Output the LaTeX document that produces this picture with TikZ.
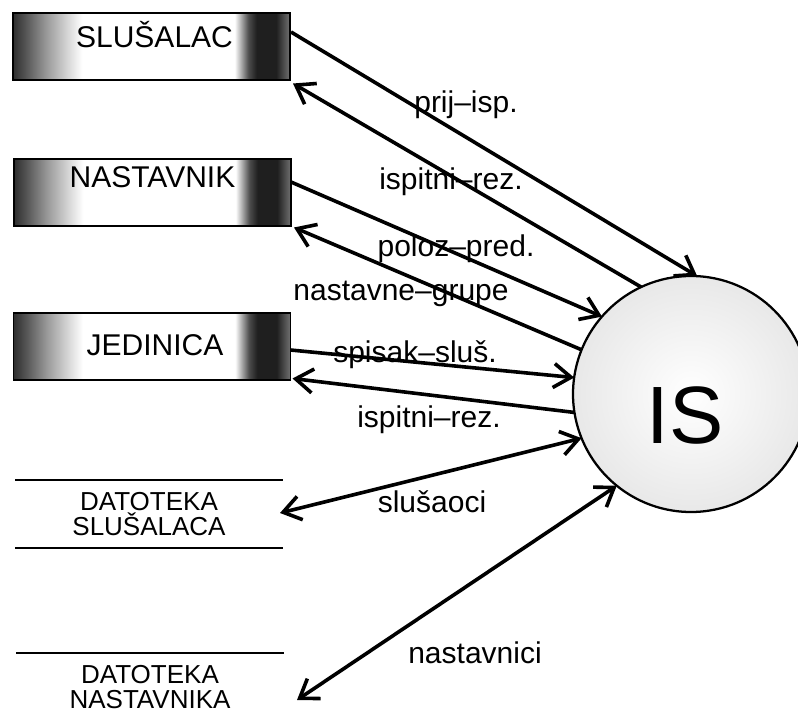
\documentclass[tikz,border=0pt]{standalone}
\usepackage{fontspec}
\setmainfont{Liberation Sans}
\usetikzlibrary{arrows.meta,calc}

% dark, worn ends on the entity boxes, white in the middle
\pgfdeclarehorizontalshading{endshade}{100bp}{%
  color(0bp)=(black!80); color(25bp)=(black!82); color(27.5bp)=(black!65);
  color(31bp)=(black!40); color(35bp)=(black!15); color(37.5bp)=(white);
  color(65bp)=(white); color(67.5bp)=(black!70); color(69bp)=(black!88);
  color(72.5bp)=(black!88); color(75bp)=(black!55); color(100bp)=(black!55)}

\begin{document}
\begin{tikzpicture}[x=0.75pt,y=-0.75pt,
  entity/.style={draw=black, line width=1.3pt, shading=endshade,
    minimum width=207.75pt, minimum height=50.25pt, inner sep=0pt, outer sep=0pt},
  enttext/.style={anchor=base, font=\fontsize{22.5pt}{27pt}\selectfont},
  store/.style={minimum width=201pt, minimum height=51pt, inner sep=0pt, outer sep=0pt,
    align=center, font=\fontsize{19.5pt}{18.75pt}\selectfont},
  storeline/.style={line width=1.3pt},
  process/.style={circle, draw=black, line width=1.7pt, inner sep=0pt, outer sep=0pt,
    minimum size=177pt, inner color=white, outer color=black!9},
  tip/.style={Straight Barb[length=13pt,width=18pt,line width=2.7pt]},
  flow/.style={line width=2.7pt, -{Straight Barb[length=13pt,width=18pt,line width=2.7pt]}},
  dflow/.style={line width=2.7pt, {Straight Barb[length=13pt,width=18pt,line width=2.7pt]}-{Straight Barb[length=13pt,width=18pt,line width=2.7pt]}},
  flowlabel/.style={anchor=base, font=\fontsize{22.5pt}{27pt}\selectfont},
]
\useasboundingbox (0,0) rectangle (798,716);

% external entities
\node[entity] (sl) at (151.5,46.5) {};
\node[enttext] (sltext) at ($(sl.center)+(3,1.5)$) {SLUŠALAC};
\node[entity] (ns) at (152.5,192.5) {};
\node[enttext] (nstext) at ($(ns.center)+(0,-4.5)$) {NASTAVNIK};
\node[entity] (je) at (152,346.5) {};
\node[enttext] (jetext) at ($(je.center)+(3,8.5)$) {JEDINICA};

% data stores
\node[store] (ds1) at (149,514) {DATOTEKA\\SLUŠALACA};
\draw[storeline] (ds1.north west) -- (ds1.north east);
\draw[storeline] (ds1.south west) -- (ds1.south east);
\node[store] (ds2) at (150,687) {DATOTEKA\\NASTAVNIKA};
\draw[storeline] (ds2.north west) -- (ds2.north east);

% the process
\node[process, label={[anchor=base, font=\fontsize{61pt}{61pt}\selectfont, xshift=-4.5pt, yshift=-15.75pt]center:IS}] (is) at (691,394) {};

% data flows
\draw[flow] ($(sl.east)+(1,-14.5)$) -- (is.87);
\draw[flow] (is.115.5) -- ($(sl.south east)+(3,3.5)$);
\draw[flow] ($(ns.east)+(0,-10.5)$) -- (is.139.4);
\draw[flow] (is.158.2) -- ($(ns.south east)+(3,1.5)$);
\draw[flow] ($(je.east)+(0,3.5)$) -- (is.172.7);
\draw[flow] (is.189.7) -- ($(je.south east)+(2,-1.5)$);
\draw[dflow] (is.202) -- ($(ds1.east)+(-3,-1)$);
\draw[dflow] (is.231.9) -- ($(ds2.east)+(13,13)$);

% flow labels
\node[flowlabel] (l1) at (466,113) {prij–isp.};
\node[flowlabel] (l2) at (451,190) {ispitni–rez.};
\node[flowlabel] (l3) at (456,257) {poloz–pred.};
\node[flowlabel] (l4) at (401,300) {nastavne–grupe};
\node[flowlabel] (l5) at (415,362) {spisak–sluš.};
\node[flowlabel] (l6) at (429,427) {ispitni–rez.};
\node[flowlabel] (l7) at (432,512) {slušaoci};
\node[flowlabel] (l8) at (475,663) {nastavnici};
\end{tikzpicture}
\end{document}
